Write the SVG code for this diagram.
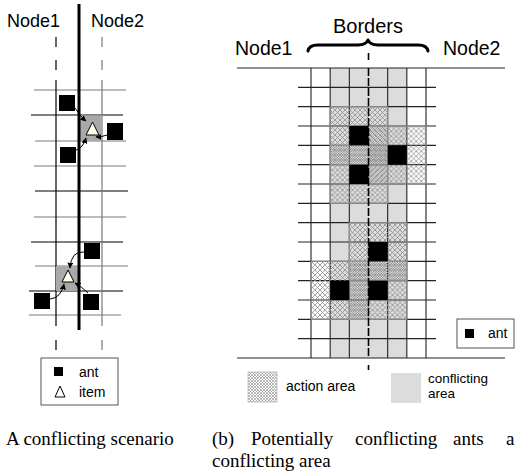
<svg xmlns="http://www.w3.org/2000/svg" width="516" height="474" viewBox="0 0 516 474">
<style>
.sans{font-family:"Liberation Sans",Arial,sans-serif;fill:#000}
.serif{font-family:"Liberation Serif","Times New Roman",serif;fill:#000;font-size:19px}
.ant{fill:#000}
.gk{stroke:#000;stroke-width:1.2;fill:none}
.gg{stroke:#7a7a7a;stroke-width:1.2;fill:none}
.gr{stroke:#222;stroke-width:1.1;fill:none}
.arr{stroke:#000;stroke-width:1;fill:none;marker-end:url(#ah)}
.blk{stroke:#9a9a9a;stroke-width:1}
</style>
<defs>
<marker id="ah" viewBox="0 0 10 10" refX="9" refY="5" markerWidth="6" markerHeight="6" markerUnits="userSpaceOnUse" orient="auto">
<path d="M0,0 L10,5 L0,10 Z" fill="#000"/>
</marker>
<pattern id="hA" patternUnits="userSpaceOnUse" x="0" y="0" width="5" height="5">
<path d="M0,0 L5,5 M5,0 L0,5 M-1,1 L1,-1 M4,6 L6,4 M-1,4 L1,6 M4,-1 L6,1" stroke="#8e8e8e" stroke-width="0.8"/>
</pattern>
<pattern id="hB" patternUnits="userSpaceOnUse" x="2.5" y="0" width="5" height="5">
<path d="M0,0 L5,5 M5,0 L0,5 M-1,1 L1,-1 M4,6 L6,4 M-1,4 L1,6 M4,-1 L6,1" stroke="#8e8e8e" stroke-width="0.8"/>
</pattern>
<pattern id="hC" patternUnits="userSpaceOnUse" x="1.25" y="1.25" width="5" height="5">
<path d="M0,0 L5,5 M5,0 L0,5 M-1,1 L1,-1 M4,6 L6,4 M-1,4 L1,6 M4,-1 L6,1" stroke="#8e8e8e" stroke-width="0.8"/>
</pattern>
<pattern id="hF" patternUnits="userSpaceOnUse" width="3" height="3">
<path d="M0,0 L3,3 M3,0 L0,3" stroke="#9a9a9a" stroke-width="0.7"/>
</pattern>
</defs>
<rect width="516" height="474" fill="#fff"/>

<!-- Left panel -->
<g id="left-labels">
<text class="sans" x="7" y="27" font-size="18">Node1</text>
<text class="sans" x="91" y="27" font-size="18">Node2</text>
</g>
<g id="left-grid">
<line class="gg" x1="34" y1="90" x2="126" y2="90"/>
<line class="gk" x1="31" y1="115" x2="123" y2="115"/>
<line class="gg" x1="35" y1="141" x2="126" y2="141"/>
<line class="gg" x1="34" y1="166" x2="126" y2="166"/>
<line class="gk" x1="35" y1="191" x2="128" y2="191"/>
<line class="gg" x1="34" y1="217" x2="126" y2="217"/>
<line class="gk" x1="31" y1="242" x2="123" y2="242"/>
<line class="gg" x1="35" y1="266" x2="128" y2="266"/>
<line class="gk" x1="29" y1="291" x2="123" y2="291"/>
<line class="gg" x1="29" y1="315" x2="121" y2="315"/>
<line class="gk" x1="56" y1="80" x2="56" y2="326"/>
<line class="gg" x1="102" y1="80" x2="102" y2="326"/>
<path class="gk" d="M56,37 V47 M56,60 V70 M56,340 V350"/>
<path class="gg" d="M102,37 V47 M102,60 V70 M102,340 V350"/>
</g>
<g id="left-cells">
<rect x="79" y="115.5" width="23" height="25.5" fill="#a9a9a9"/>
<rect x="56" y="266" width="23" height="25" fill="#a9a9a9"/>
</g>
<g id="border-line">
<line x1="79" y1="4" x2="79" y2="330" stroke="#000" stroke-width="3"/>
</g>
<g id="left-items">
<polygon points="92.5,122 86,135 99,135" fill="#ffffee" stroke="#000" stroke-width="1"/>
<polygon points="68,270 62,282 74,282" fill="#ffffee" stroke="#000" stroke-width="1"/>
</g>
<g id="left-ants">
<rect class="ant" x="59" y="95" width="16" height="16"/>
<rect class="ant" x="107" y="123" width="16" height="17"/>
<rect class="ant" x="60" y="147" width="16" height="16"/>
<rect class="ant" x="84" y="243" width="16" height="16"/>
<rect class="ant" x="34" y="293" width="16" height="16"/>
<rect class="ant" x="83" y="294" width="16" height="16"/>
</g>
<g id="left-connectors">
<path class="arr" d="M75,108 Q80,116 86,121"/>
<path class="arr" d="M107,135 Q102,137 96,137"/>
<path class="arr" d="M76,150 Q83,148 86,138"/>
<path class="arr" d="M84,252 Q71,251 70,268"/>
<path class="arr" d="M50,299 Q61,298 64,284"/>
<path class="arr" d="M88,293 Q82,287 75,283"/>
</g>
<g id="left-legend">
<rect x="41" y="358" width="77" height="47" fill="#fff" stroke="#555" stroke-width="1"/>
<rect class="ant" x="54" y="367" width="9" height="9"/>
<polygon points="60,386 55,397 65,397" fill="#fff" stroke="#000" stroke-width="1"/>
<text class="sans" x="79" y="377" font-size="14">ant</text>
<text class="sans" x="79" y="397" font-size="14">item</text>
</g>

<!-- Right panel -->
<g id="right-labels">
<text class="sans" x="333" y="33" font-size="20">Borders</text>
<text class="sans" x="235" y="55" font-size="19.5">Node1</text>
<text class="sans" x="443" y="55" font-size="19.5">Node2</text>
<path d="M308,51 Q309,45 318,45 L358,45 Q366,45 368,40 Q370,45 378,45 L418,45 Q427,45 428,51" fill="none" stroke="#000" stroke-width="3" stroke-linecap="round" stroke-linejoin="round"/>
</g>
<g id="conflicting-area">
<rect x="330.17" y="68" width="76.66" height="290" fill="#dcdcdc"/>
</g>
<g id="right-grid">
<line class="gr" x1="237" y1="68" x2="505" y2="68"/>
<line class="gr" x1="237" y1="358" x2="505" y2="358"/>
<path class="gr" d="M298,87.33H436 M298,106.67H436 M298,126H436 M298,145.33H436 M298,164.67H436 M298,184H436 M298,203.33H436 M298,222.67H436 M298,242H436 M298,261.33H436 M298,280.67H436 M298,300H436 M298,319.33H436 M298,338.67H436"/>
<path class="gr" d="M311,68V358 M330.17,68V358 M349.33,68V358 M387.67,68V358 M406.83,68V358 M426,68V358"/>
</g>
<g id="action-areas">
<rect class="blk" x="330.17" y="106.67" width="57.5" height="58" fill="url(#hA)"/>
<rect class="blk" x="368.5" y="126" width="57.5" height="58" fill="url(#hC)"/>
<rect class="blk" x="330.17" y="145.33" width="57.5" height="58" fill="url(#hB)"/>
<rect class="blk" x="349.33" y="222.67" width="57.5" height="58" fill="url(#hA)"/>
<rect class="blk" x="311" y="261.33" width="57.5" height="58" fill="url(#hA)"/>
<rect class="blk" x="349.33" y="261.33" width="57.5" height="58" fill="url(#hB)"/>
</g>
<g id="center-line">
<path d="M368.5,53V60 M368.5,68V358 M368.5,365V370" stroke="#000" stroke-width="1.6" stroke-dasharray="8 2" fill="none"/>
</g>
<g id="right-ants">
<rect class="ant" x="349.33" y="126" width="19.17" height="19.33"/>
<rect class="ant" x="387.67" y="145.33" width="19.17" height="19.33"/>
<rect class="ant" x="349.33" y="164.67" width="19.17" height="19.33"/>
<rect class="ant" x="368.5" y="242" width="19.17" height="19.33"/>
<rect class="ant" x="330.17" y="280.67" width="19.17" height="19.33"/>
<rect class="ant" x="368.5" y="280.67" width="19.17" height="19.33"/>
</g>
<g id="right-legend-ant">
<rect x="457" y="319" width="57" height="29" fill="#fff" stroke="#555" stroke-width="1"/>
<rect class="ant" x="465" y="329" width="9" height="9"/>
<text class="sans" x="488" y="338" font-size="14">ant</text>
</g>
<g id="right-legend-areas">
<rect x="248" y="372" width="29" height="30" fill="url(#hF)" stroke="#bbb" stroke-width="0.8"/>
<text class="sans" x="286" y="391" font-size="14">action area</text>
<rect x="391" y="373" width="30" height="30" fill="#dcdcdc"/>
<text class="sans" x="428" y="383" font-size="13.5">conflicting</text>
<text class="sans" x="428" y="398" font-size="13.5">area</text>
</g>

<!-- Captions -->
<g id="captions">
<text class="serif" x="6" y="445">A conflicting scenario</text>
<text class="serif" x="212" y="445">(b)</text>
<text class="serif" x="251" y="445">Potentially</text>
<text class="serif" x="355" y="445">conflicting</text>
<text class="serif" x="453" y="445">ants</text>
<text class="serif" x="506" y="445">a</text>
<text class="serif" x="212" y="467">conflicting area</text>
</g>
</svg>
